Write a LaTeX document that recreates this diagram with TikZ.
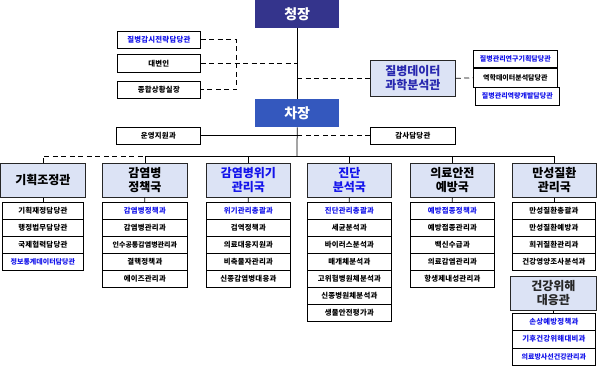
\documentclass[tikz,border=0pt]{standalone}
\usepackage{fontspec}
\setmainfont{Noto Sans CJK KR}
\newfontfamily\subfont[LetterSpace=3]{Noto Sans CJK KR}
\definecolor{hdrfill}{RGB}{220,227,245}
\definecolor{navy}{RGB}{52,52,140}
\definecolor{midblue}{RGB}{52,88,190}
\definecolor{blu}{RGB}{20,20,235}
\definecolor{dsblue}{RGB}{40,40,175}
\begin{document}
\begin{tikzpicture}[x=1pt,y=-1pt,
  sub/.style={draw=black, line width=0.7pt, fill=white, inner sep=0pt, anchor=north west,
    minimum width=84pt, minimum height=17pt, font=\subfont\fontsize{7.4}{8}\selectfont\bfseries},
  long/.style={font=\fontsize{7}{8}\selectfont\bfseries},
  bt/.style={text=blu},
  hdr/.style={draw=black!85, line width=0.75pt, fill=hdrfill, inner sep=0pt, anchor=north west,
    minimum width=84pt, minimum height=34pt, align=center, font=\fontsize{12}{14}\selectfont\bfseries},
  top/.style={inner sep=0pt, anchor=north west, minimum width=84pt, minimum height=28pt,
    text=white, font=\fontsize{14}{16}\selectfont\bfseries},
  conn/.style={line width=0.75pt, black},
  dsh/.style={line width=0.75pt, black, dash pattern=on 5pt off 3.5pt}]
\useasboundingbox (0,0) rectangle (598,367);

% top
\node[top, fill=navy] (cj) at (255,0) {청장};
\node[top, fill=midblue] (ch) at (255,99) {차장};
\draw[conn] (cj.south) -- (ch.north);

% left staff of 청장
\node[sub, minimum width=83pt, bt] (b1) at (117,31) {질병감시전략담당관};
\node[sub, minimum width=83pt, minimum height=18pt] (b2) at (117,54) {대변인};
\node[sub, minimum width=83pt] (b3) at (117,81) {종합상황실장};
\draw[dsh] (b1.east) -- ++(36,0) |- (b3.east);
\draw[dsh] (b2.east) -- (b2.east -| cj.south);

% right staff
\node[hdr, minimum width=85pt, minimum height=36pt, text=dsblue] (ds) at (370,60) {질병데이터\\과학분석관};
\draw[dsh] (ds.west -| cj.south) -- (ds.west);
\node[sub, bt, long] (r1) at (473,50) {질병관리연구기획담당관};
\node[sub, minimum height=19pt, long] (r2) at (473,68) {역학데이터분석담당관};
\node[sub, bt, long, minimum height=18pt] (r3) at (475,87) {질병관리역량개발담당관};
\draw[dsh] (ds.east) -- (r2.west);

% 차장 row
\node[sub, minimum width=84pt] (op) at (116,127) {운영지원과};
\node[sub, minimum width=85pt] (au) at (370,127) {감사담당관};
\draw[conn] (op.east) -- (op.east -| ch.south);
\draw[dsh] (au.west) -- (au.west -| ch.south);

% headers
\node[hdr, minimum width=85pt] (h1) at (0,163) {기획조정관};
\node[hdr, minimum width=85pt] (h2) at (102,163) {감염병\\정책국};
\node[hdr, text=blu] (h3) at (206,163) {감염병위기\\관리국};
\node[hdr, text=blu] (h4) at (307,163) {진단\\분석국};
\node[hdr] (h5) at (410,163) {의료안전\\예방국};
\node[hdr] (h6) at (512,163) {만성질환\\관리국};

\coordinate (bus) at (297,156);
\draw[conn] (ch.south) -- (bus);
\draw[dsh] (h1.north) -- (h1.north |- bus) -- (h2.north |- bus);
\draw[conn] (h2.north |- bus) -- (h6.north |- bus);
\foreach \h in {h2,h3,h4,h5,h6} \draw[conn] (\h.north) -- (\h.north |- bus);

% col 1
\node[sub, minimum width=81pt] (c1a) at (2,202) {기획재정담당관};
\node[sub, minimum width=81pt] (c1b) at (2,219) {행정법무담당관};
\node[sub, minimum width=81pt] (c1c) at (2,236) {국제협력담당관};
\node[sub, minimum width=81pt, bt, long] (c1d) at (2,253) {정보통계데이터담당관};
\draw[conn] (h1.south) -- (h1.south |- c1a.north);

% col 2
\node[sub, minimum width=85pt, bt] (c2a) at (102,202) {감염병정책과};
\node[sub, minimum width=85pt] (c2b) at (102,219) {감염병관리과};
\node[sub, minimum width=85pt, long] (c2c) at (102,236) {인수공통감염병관리과};
\node[sub, minimum width=85pt] (c2d) at (102,253) {결핵정책과};
\node[sub, minimum width=85pt] (c2e) at (102,270) {에이즈관리과};
\draw[conn] (h2.south) -- (c2a.north);

% col 3
\node[sub, bt] (c3a) at (206,202) {위기관리총괄과};
\node[sub] (c3b) at (206,219) {검역정책과};
\node[sub] (c3c) at (206,236) {의료대응지원과};
\node[sub] (c3d) at (206,253) {비축물자관리과};
\node[sub] (c3e) at (206,270) {신종감염병대응과};
\draw[conn] (h3.south) -- (c3a.north);

% col 4
\node[sub, bt] (c4a) at (307,202) {진단관리총괄과};
\node[sub] (c4b) at (307,219) {세균분석과};
\node[sub] (c4c) at (307,236) {바이러스분석과};
\node[sub] (c4d) at (307,253) {매개체분석과};
\node[sub] (c4e) at (307,270) {고위험병원체분석과};
\node[sub] (c4f) at (307,287) {신종병원체분석과};
\node[sub] (c4g) at (307,304) {생물안전평가과};
\draw[conn] (h4.south) -- (c4a.north);

% col 5
\node[sub, bt] (c5a) at (410,202) {예방접종정책과};
\node[sub] (c5b) at (410,219) {예방접종관리과};
\node[sub] (c5c) at (410,236) {백신수급과};
\node[sub] (c5d) at (410,253) {의료감염관리과};
\node[sub] (c5e) at (410,270) {항생제내성관리과};
\draw[conn] (h5.south) -- (c5a.north);

% col 6
\node[sub, minimum width=83pt] (c6a) at (512,202) {만성질환총괄과};
\node[sub, minimum width=83pt] (c6b) at (512,219) {만성질환예방과};
\node[sub, minimum width=83pt] (c6c) at (512,236) {희귀질환관리과};
\node[sub, minimum width=83pt] (c6d) at (512,253) {건강영양조사분석과};
\draw[conn] (h6.south) -- (h6.south |- c6a.north);

% 건강위해대응관
\node[hdr, minimum width=86pt, text=black!85] (h7) at (510,276) {건강위해\\대응관};
\draw[conn] (c6d.south -| h6.south) -- (c6d.south -| h6.south |- h7.north);
\node[sub, minimum width=83pt, bt] (c7a) at (512,313) {손상예방정책과};
\node[sub, minimum width=83pt, bt, minimum height=17.5pt] (c7b) at (512,330) {기후건강위해대비과};
\node[sub, minimum width=83pt, bt, minimum height=17.5pt, long] (c7c) at (512,347.5) {의료방사선건강관리과};
\draw[conn] (h7.south -| c7a.north) -- (c7a.north);
\end{tikzpicture}
\end{document}
